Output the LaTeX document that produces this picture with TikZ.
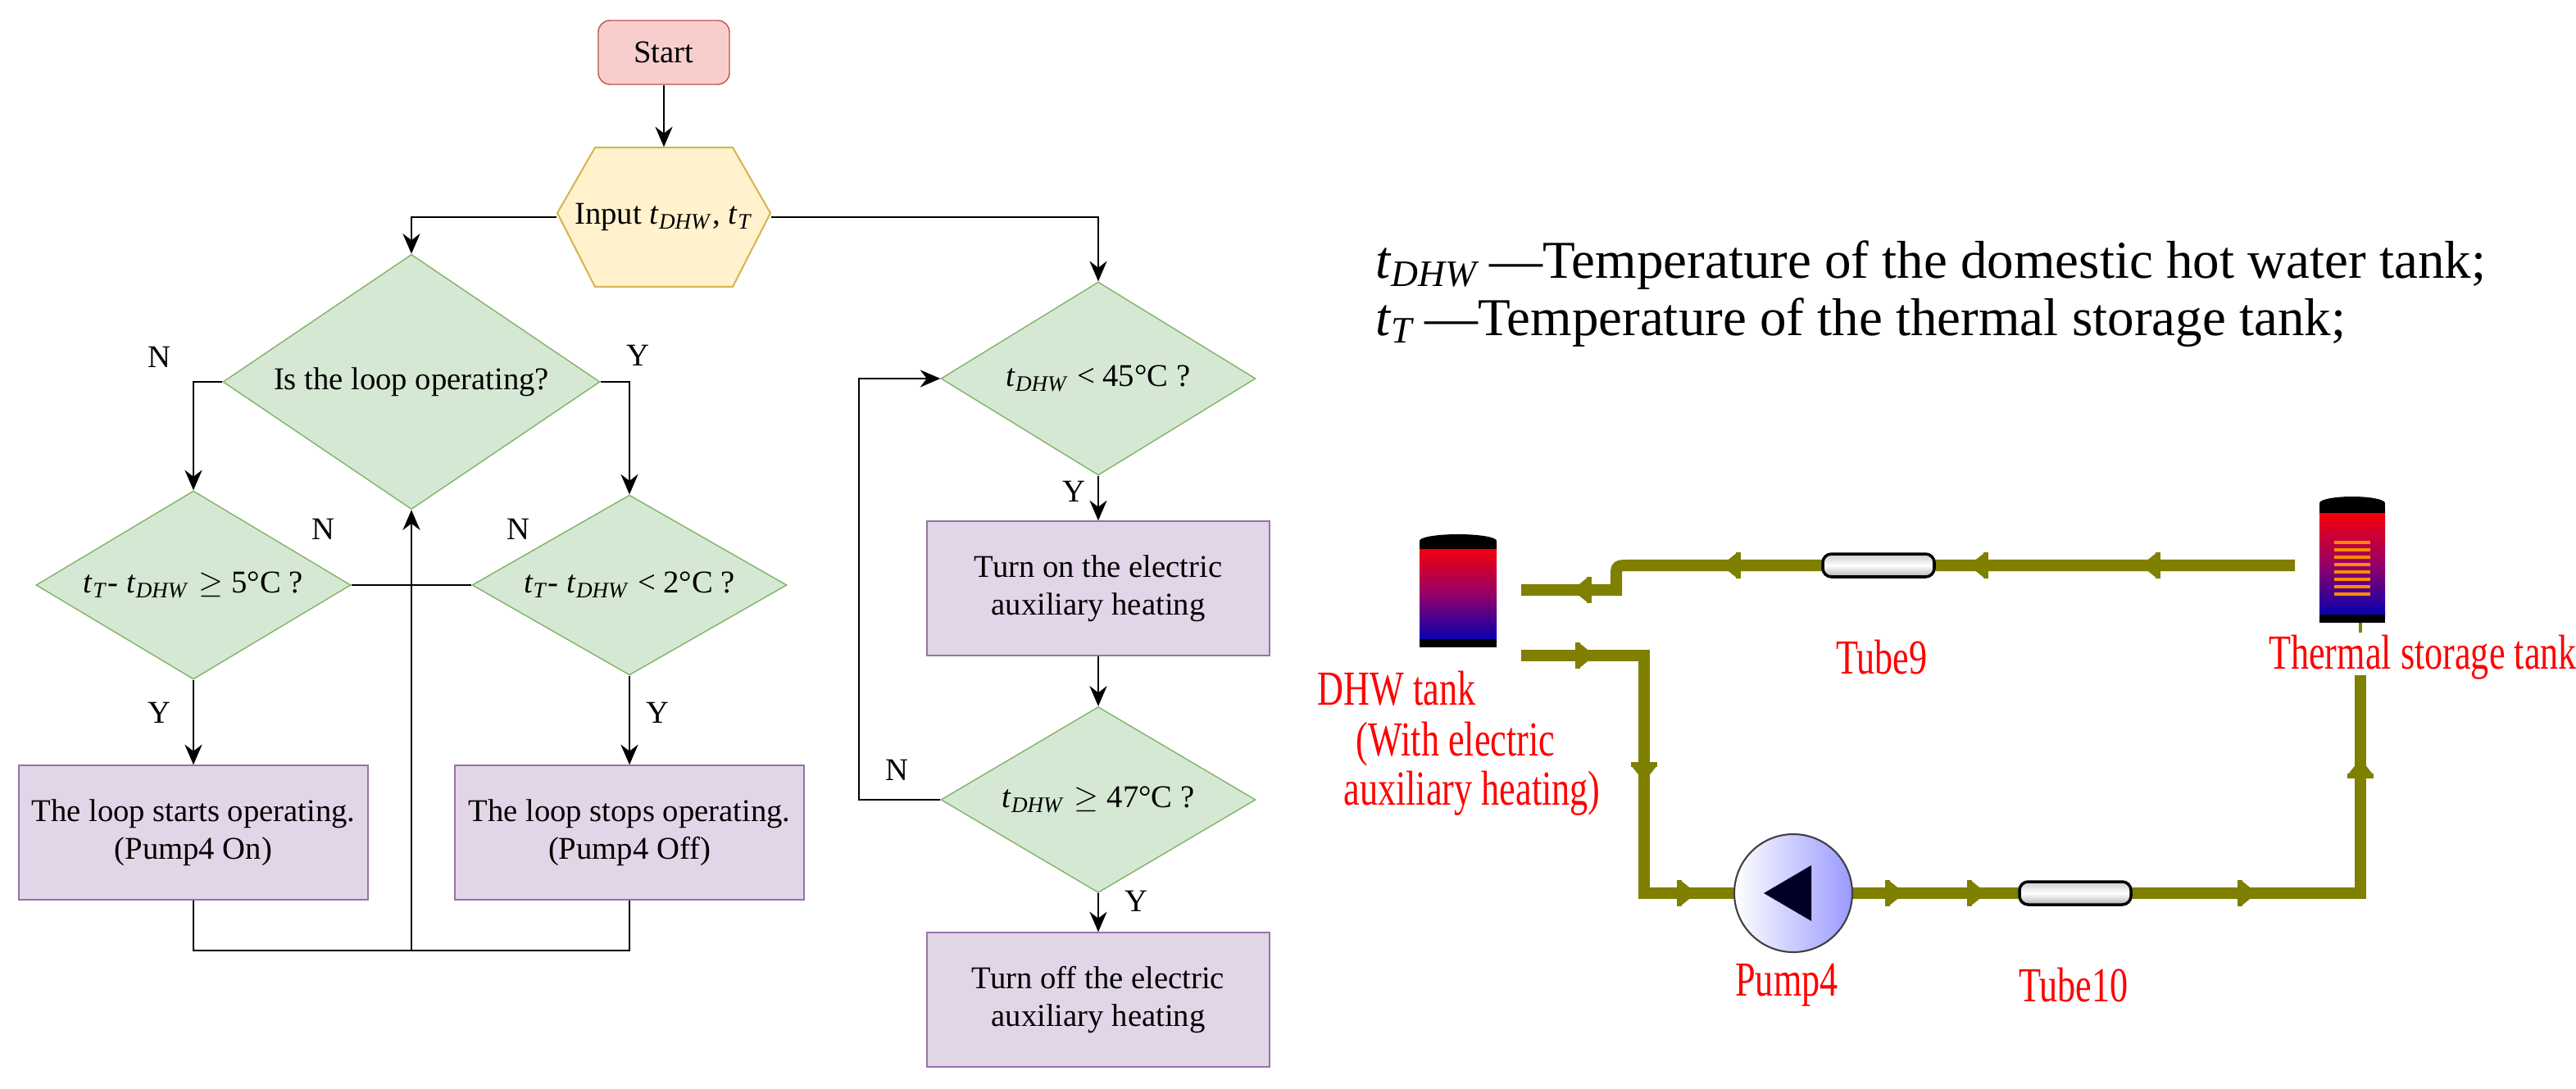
\documentclass[tikz,border=0pt]{standalone}
\usepackage{fontspec}
\setmainfont{Liberation Serif}
\usetikzlibrary{shapes.geometric,arrows.meta}
\newcommand\tv[1]{\textit{t}\textsubscript{\textit{#1}}}
\definecolor{pipec}{HTML}{7F7F00}
\begin{document}
\begin{tikzpicture}[x=0.02cm,y=-0.02cm,
  every node/.style={font=\fontsize{11}{13}\selectfont},
  ln/.style={draw=black,line width=0.8pt},
  arr/.style={ln,-{Stealth[length=7pt,width=6pt]}},
  dia/.style={diamond,inner sep=0pt,align=center},
  box/.style={rectangle,align=center,minimum width=4.26cm,minimum height=1.64cm},
  pipe/.style={line width=4pt,draw=pipec},
  red/.style={text=red,font=\fontsize{17}{19}\selectfont,xscale=0.74,transform shape},
  flowL/.pic={\fill[pipec] (-7,0)--(3,-8)--(3,8)--cycle; \fill[pipec] (2,-8) rectangle (5,8);},
  flowR/.pic={\fill[pipec] (7,0)--(-3,-8)--(-3,8)--cycle; \fill[pipec] (-5,-8) rectangle (-2,8);},
  flowD/.pic={\fill[pipec] (0,7)--(-8,-3)--(8,-3)--cycle; \fill[pipec] (-8,-5) rectangle (8,-2);},
  flowU/.pic={\fill[pipec] (0,-7)--(-8,3)--(8,3)--cycle; \fill[pipec] (-8,5) rectangle (8,2);}
]
\useasboundingbox (0,0) rectangle (1571.5,664.5);
\definecolor{pinkf}{HTML}{F8CECC}\definecolor{pinkd}{HTML}{B85450}
\definecolor{yelf}{HTML}{FFF2CC}\definecolor{yeld}{HTML}{D6B656}
\definecolor{grf}{HTML}{D5E8D4}\definecolor{grd}{HTML}{82B366}
\definecolor{puf}{HTML}{E1D5E7}\definecolor{pud}{HTML}{9673A6}
% flowchart
\node[rectangle,rounded corners=4pt,draw=pinkd,fill=pinkf,minimum width=1.6cm,minimum height=0.78cm] (start) at (405,32) {Start};
\draw[draw=yeld,fill=yelf,line width=0.6pt] (340,130) -- (363,90) -- (447,90) -- (470,130) -- (447,175) -- (363,175) -- cycle;
\node[rectangle,minimum width=2.6cm,minimum height=1.7cm,inner sep=0pt] (inp) at (405,132.5) {Input \tv{DHW}, \tv{T}};
\node[dia,draw=grd,fill=grf,minimum width=4.6cm,minimum height=2.48cm,inner xsep=-0.3cm] (d1) at (251,233) {Is the loop operating?};
\node[dia,draw=grd,fill=grf,minimum width=3.84cm,minimum height=2.1cm,inner xsep=-0.35cm] (d2) at (118,357) {\tv{T}- \tv{DHW}${}\geq{}$5\textdegree C ?};
\node[dia,draw=grd,fill=grf,minimum width=3.84cm,minimum height=2.1cm,inner xsep=-0.35cm] (d3) at (384,357) {\tv{T}- \tv{DHW} < 2\textdegree C ?};
\node[box,draw=pud,fill=puf] (b1) at (118,508) {The loop starts operating.\\(Pump4 On)};
\node[box,draw=pud,fill=puf] (b2) at (384,508) {The loop stops operating.\\(Pump4 Off)};
\node[dia,draw=grd,fill=grf,minimum width=3.84cm,minimum height=2.36cm,inner xsep=-0.2cm] (d4) at (670,231) {\tv{DHW} < 45\textdegree C ?};
\node[box,draw=pud,fill=puf,minimum width=4.18cm] (b3) at (670,359) {Turn on the electric\\auxiliary heating};
\node[dia,draw=grd,fill=grf,minimum width=3.84cm,minimum height=2.06cm,inner xsep=-0.2cm] (d5) at (670,488) {\tv{DHW}${}\geq{}$47\textdegree C ?};
\node[box,draw=pud,fill=puf,minimum width=4.18cm] (b4) at (670,610) {Turn off the electric\\auxiliary heating};
\coordinate (bot) at (251,580);
\draw[arr] (start) -- (inp);
\draw[arr] (inp.west) -| (d1.north);
\draw[arr] (inp.east) -| (d4.north);
\draw[arr] (d1.west) -| (d2.north);
\draw[arr] (d1.east) -| (d3.north);
\draw[ln] (d2.east) -- (d3.west);
\draw[arr] (d2) -- (b1);
\draw[arr] (d3) -- (b2);
\draw[ln] (b1.south) |- (bot) -| (b2.south);
\draw[arr] (bot) -- (d1.south);
\draw[arr] (d4) -- (b3);
\draw[arr] (b3) -- (d5);
\draw[arr] (d5) -- (b4);
\draw[arr] (d5.west) -- (524,488) |- (d4.west);
\node (n1) at (97,218) {N};
\node (y1) at (389,217) {Y};
\node (n2) at (197,323) {N};
\node (n3) at (316,323) {N};
\node (y2) at (97,435) {Y};
\node (y3) at (401,435) {Y};
\node (y4) at (655,300) {Y};
\node (n4) at (547,470) {N};
\node (y5) at (693,550) {Y};
% legend
\node[anchor=west,font=\fontsize{18.5}{22}\selectfont] (l1) at (833,162) {\tv{DHW}\,—Temperature of the domestic hot water tank;};
\node[anchor=west,font=\fontsize{18.5}{22}\selectfont] (l2) at (833,197) {\tv{T}\,—Temperature of the thermal storage tank;};
% schematic
\coordinate (dhwo) at (928,360);
\coordinate (dhwi) at (928,400);
\draw[pipe] (dhwo) -- (986,360) -- (986,352) .. controls (986,345) .. (995,345) -- (1400,345);
\draw[pipe] (dhwi) -- (1003,400) -- (1003,545) -- (1440,545) -- (1440,412);
% tanks
\shade[top color=red,bottom color=blue!70!black,middle color=red!60!blue] (866,331) rectangle (913,392);
\fill[black] (866,330) rectangle (913,335); \fill[black] (889.5,330) ellipse (23.5 and 4);
\fill[black] (866,390) rectangle (913,395);
\node[inner sep=0pt,minimum width=0.94cm,minimum height=1.4cm] (dhw) at (889.5,362) {};
\shade[top color=red,bottom color=blue!70!black,middle color=red!60!blue] (1415,310) rectangle (1455,377);
\fill[black] (1415,307) rectangle (1455,313); \fill[black] (1435,307) ellipse (20 and 4);
\fill[black] (1415,375) rectangle (1455,380);
\foreach \k in {0,...,7}{\draw[orange!90!yellow,line width=1.4pt] (1424,{331+\k*4.5}) -- (1446,{331+\k*4.5});}
\node[inner sep=0pt,minimum width=0.8cm,minimum height=1.5cm] (tst) at (1435,343) {};
\draw[pipec,line width=1pt] (1440,380) -- (1440,386);
% tubes
\node[rectangle,rounded corners=3pt,draw=black,line width=1pt,top color=gray!40,bottom color=gray!60,middle color=white,minimum width=1.36cm,minimum height=0.28cm,inner sep=0pt] (t9) at (1146,345) {};
\node[rectangle,rounded corners=3pt,draw=black,line width=1pt,top color=gray!40,bottom color=gray!60,middle color=white,minimum width=1.36cm,minimum height=0.28cm,inner sep=0pt] (t10) at (1266,545) {};
% pump
\node[circle,draw=gray!50!black,line width=0.6pt,left color=white,right color=blue!40,minimum size=1.44cm,inner sep=0pt] (p4) at (1094,545) {};
\fill[black!85!blue] (1076,545) -- (1105,528) -- (1105,562) -- cycle;
% flow markers
\pic at (966,360) {flowL};
\pic at (1057,345) {flowL};
\pic at (1208,345) {flowL};
\pic at (1313,345) {flowL};
\pic at (966,400) {flowR};
\pic at (1003,470) {flowD};
\pic at (1028,545) {flowR};
\pic at (1155,545) {flowR};
\pic at (1205,545) {flowR};
\pic at (1370,545) {flowR};
\pic at (1440,470) {flowU};
% labels
\node[red] (lt9) at (1148,401) {Tube9};
\node[red] (lts) at (1478,401) {Thermal storage tank};
\node[red] (ldhw) at (852,420) {DHW tank};
\node[red] (lw1) at (888,454) {(With electric};
\node[red] (lw2) at (898,484) {auxiliary heating)};
\node[red] (lp4) at (1090,601) {Pump4};
\node[red] (lt10) at (1265,601) {Tube10};
\end{tikzpicture}
\end{document}
